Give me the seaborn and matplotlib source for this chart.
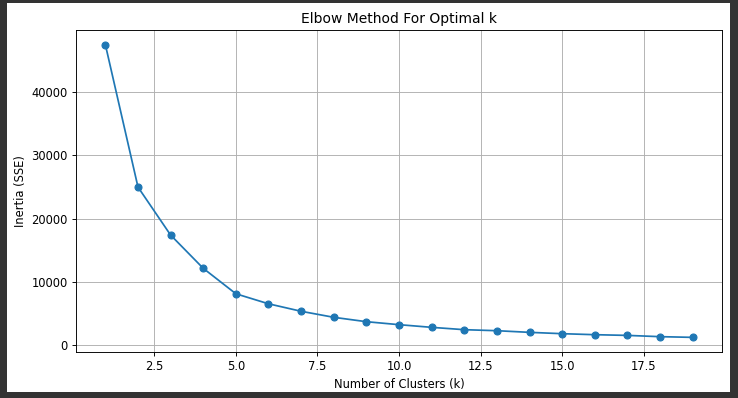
import matplotlib
matplotlib.use("Agg")
import matplotlib.pyplot as plt
import seaborn as sns
import pandas as pd
from matplotlib.patches import Rectangle

k_values = list(range(1, 20))
inertia = [47400, 24950, 17390, 12150, 8140, 6560, 5380, 4430, 3740, 3270,
           2850, 2480, 2320, 2060, 1850, 1690, 1580, 1380, 1270]

df = pd.DataFrame({"k": k_values, "inertia": inertia})

W, H = 738, 398
DPI = 83
fig = plt.figure(figsize=(W / DPI, H / DPI), dpi=DPI)
fig.patch.set_facecolor("#333333")
fig.patches.append(Rectangle((7 / W, 1 - 392 / H), (730 - 7) / W, (392 - 3) / H,
                             transform=fig.transFigure, facecolor="white",
                             edgecolor="none", zorder=-10))
ax = fig.add_axes([76 / W, 1 - 352 / H, (722 - 76) / W, (352 - 30) / H])

sns.lineplot(data=df, x="k", y="inertia", marker="o", markersize=6,
             markeredgewidth=1, markeredgecolor="#1f77b4", color="#1f77b4", ax=ax)
ax.set_title("Elbow Method For Optimal k", fontsize=12)
ax.set_xlabel("Number of Clusters (k)")
ax.set_ylabel("Inertia (SSE)")
ax.grid(True)
fig.savefig("out.png", dpi=DPI, facecolor=fig.get_facecolor())
